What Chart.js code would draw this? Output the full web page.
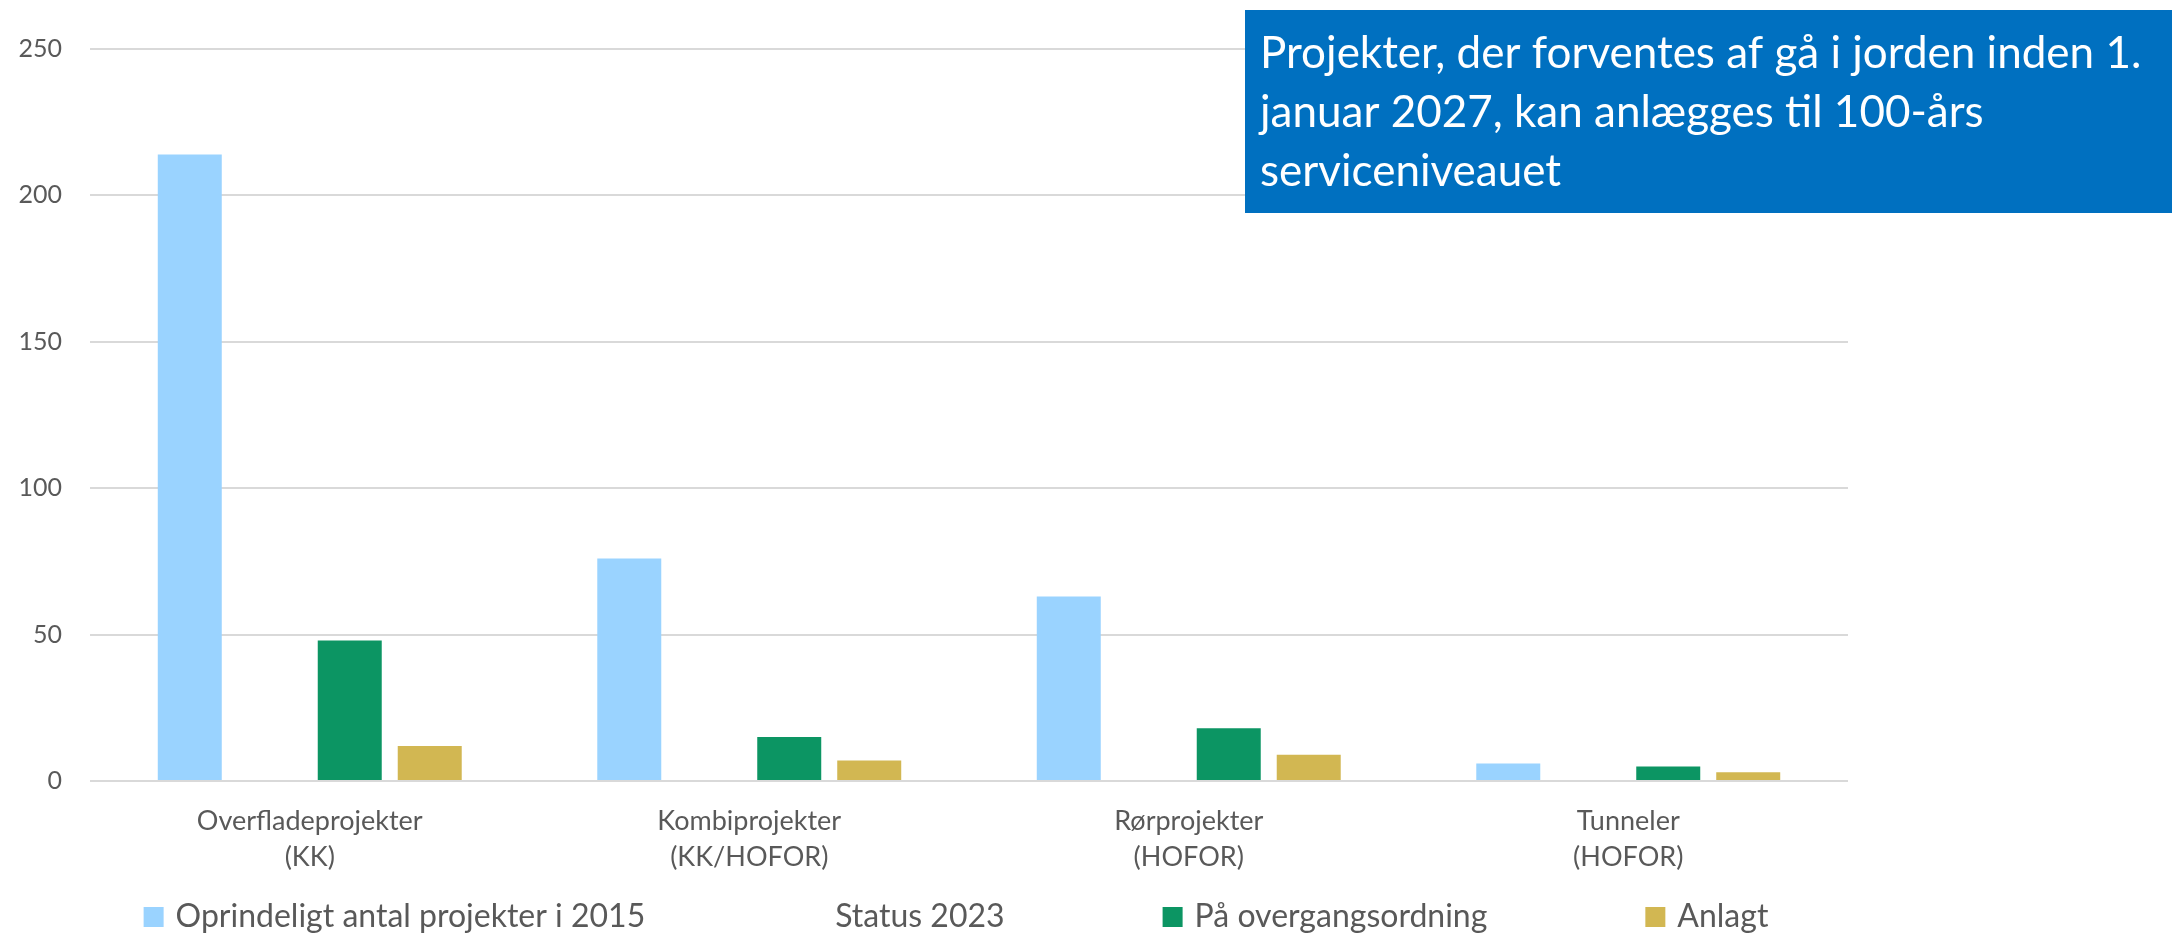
<!DOCTYPE html>
<html><head><meta charset="utf-8">
<script src="https://cdn.jsdelivr.net/npm/chart.js@4.4.1/dist/chart.umd.min.js"></script>
<style>html,body{margin:0;padding:0;background:#fff;overflow:hidden}#wrap{position:relative;width:2172px;height:936px}</style>
</head><body><div id="wrap"><canvas id="c" width="2172" height="936"></canvas></div>
<script>
const categories = [
  ['Overfladeprojekter', '(KK)'],
  ['Kombiprojekter', '(KK/HOFOR)'],
  ['Rørprojekter', '(HOFOR)'],
  ['Tunneler', '(HOFOR)']
];
const seriesNames = ['Oprindeligt antal projekter i 2015', 'Status 2023', 'På overgangsordning', 'Anlagt'];
const original2015 = [214, 76, 63, 6];
const status2023 = [null, null, null, null];
const overgangsordning = [48, 15, 18, 5];
const anlagt = [12, 7, 9, 3];
const yTicks = [0, 50, 100, 150, 200, 250];
const noteLines = [
  'Projekter, der forventes af gå i jorden inden 1.',
  'januar 2027, kan anlægges til 100-års',
  'serviceniveauet'
];

const FONT = "Lato, 'Open Sans', sans-serif";
const TEXT = '#595959';

// Legend drawn on the canvas from the library's own legend items
const bottomLegend = {
  id: 'bottomLegend',
  afterDraw(chart) {
    const items = Chart.defaults.plugins.legend.labels.generateLabels(chart);
    const ctx = chart.ctx;
    const box = 20, boxGap = 12, itemGap = 158, cy = 917, centerX = 956;
    ctx.save();
    ctx.font = '32px ' + FONT;
    const widths = items.map(it => box + boxGap + ctx.measureText(it.text).width);
    const total = widths.reduce((a, b) => a + b, 0) + itemGap * (items.length - 1);
    let x = centerX - total / 2;
    items.forEach((it, i) => {
      ctx.fillStyle = it.fillStyle;
      ctx.fillRect(x, cy - box / 2, box, box);
      ctx.fillStyle = TEXT;
      ctx.textBaseline = 'middle';
      ctx.textAlign = 'left';
      ctx.fillText(it.text, x + box + boxGap, cy);
      x += widths[i] + itemGap;
    });
    ctx.restore();
  }
};

const noteBox = {
  id: 'noteBox',
  afterDraw(chart) {
    const ctx = chart.ctx;
    ctx.save();
    ctx.fillStyle = '#0070C0';
    ctx.fillRect(1245, 10, 927, 203);
    ctx.fillStyle = '#ffffff';
    ctx.font = '44px ' + FONT;
    ctx.textBaseline = 'alphabetic';
    ctx.textAlign = 'left';
    noteLines.forEach((t, i) => ctx.fillText(t, 1260, 68 + i * 59));
    ctx.restore();
  }
};

function make() {
  new Chart(document.getElementById('c'), {
    type: 'bar',
    data: {
      labels: categories,
      datasets: [
        { label: seriesNames[0], data: original2015, backgroundColor: '#9AD3FF', borderWidth: 0 },
        { label: seriesNames[1], data: status2023, backgroundColor: 'rgba(0,0,0,0)', borderColor: 'rgba(0,0,0,0)', borderWidth: 0 },
        { label: seriesNames[2], data: overgangsordning, backgroundColor: '#0C9563', borderWidth: 0 },
        { label: seriesNames[3], data: anlagt, backgroundColor: '#D2B752', borderWidth: 0 }
      ]
    },
    options: {
      responsive: false,
      animation: false,
      layout: { padding: { top: 49, right: 324, bottom: 39, left: 0 } },
      datasets: { bar: { categoryPercentage: 0.728, barPercentage: 0.8 } },
      scales: {
        x: {
          grid: { display: false, drawTicks: false },
          border: { display: false },
          ticks: { color: TEXT, font: { family: FONT, size: 27, lineHeight: 1.333 }, padding: 22, maxRotation: 0, autoSkip: false }
        },
        y: {
          min: 0, max: 250,
          afterFit(scale) { scale.width = 90; },
          afterBuildTicks(scale) { scale.ticks = yTicks.map(v => ({ value: v })); },
          grid: { color: '#D9D9D9', lineWidth: 2, drawTicks: false },
          border: { display: false },
          ticks: { color: TEXT, font: { family: FONT, size: 25 }, padding: 28 }
        }
      },
      plugins: {
        tooltip: { enabled: false },
        legend: { display: false }
      }
    },
    plugins: [bottomLegend, noteBox]
  });
}
document.fonts.load('25px Lato').then(make, make);
</script>
</body></html>
